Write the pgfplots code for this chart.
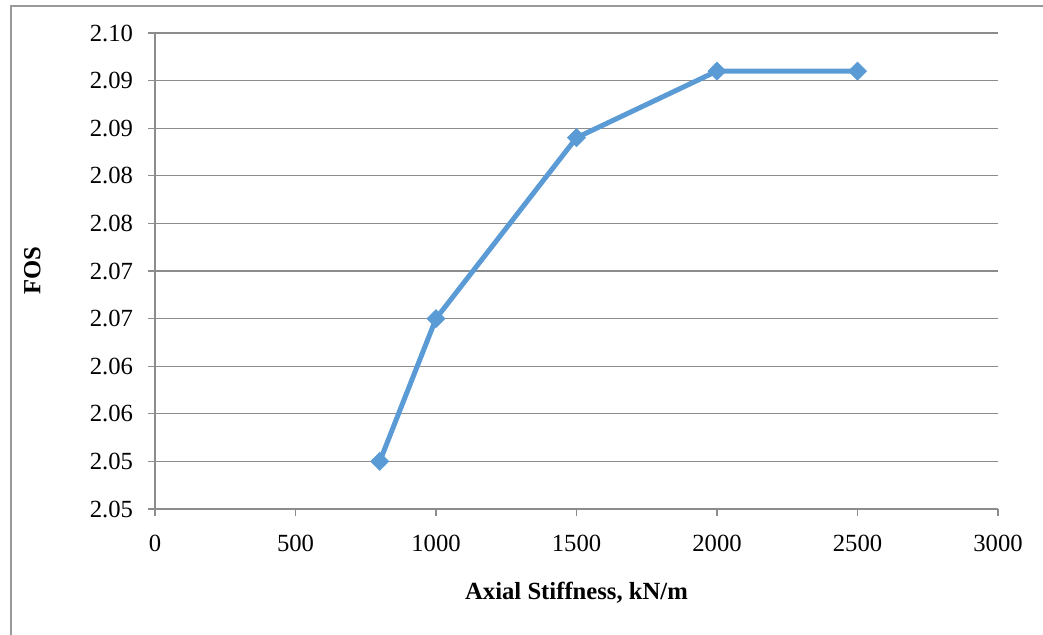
\documentclass[border=0pt]{standalone}
\usepackage{pgfplots}
\pgfplotsset{compat=1.18}
\usepackage{fontspec}
\setmainfont{Liberation Serif}
\definecolor{serblue}{HTML}{5B9BD5}
\definecolor{gridgray}{HTML}{8C8C8C}
\begin{document}
\begin{tikzpicture}[x=0.75pt,y=0.75pt]
\path[use as bounding box] (0,0) rectangle (1043,635);
\draw[color=gray!80, line width=1.5pt] (10.5,0) -- (10.5,629) -- (1043,629);
\begin{axis}[
  at={(155*0.75pt,126*0.75pt)}, anchor=south west,
  scale only axis, width=843*0.75pt, height=476*0.75pt,
  xmin=0, xmax=3000, ymin=2.05, ymax=2.10,
  xtick={0,500,...,3000},
  ytick={2.050,2.055,2.060,2.065,2.070,2.075,2.080,2.085,2.090,2.095,2.100},
  yticklabels={2.05,2.05,2.06,2.06,2.07,2.07,2.08,2.08,2.09,2.09,2.10},
  /pgf/number format/assume math mode=true,
  /pgf/number format/1000 sep={},
  ymajorgrids, grid style={gridgray, line width=0.8pt},
  axis line style={gridgray, line width=0.8pt},
  axis x line*=bottom, axis y line*=left,
  tick style={gridgray, line width=0.8pt},
  tick align=outside, major tick length=5pt,
  ticklabel style={font=\fontsize{18.5}{21}\selectfont},
  yticklabel style={xshift=-8pt},
  xticklabel style={yshift=-11pt},
  xlabel={\textbf{Axial Stiffness, kN/m}},
  ylabel={\textbf{FOS}},
  label style={font=\fontsize{18.5}{21}\selectfont},
  xlabel style={yshift=-16pt},
  ylabel style={yshift=30pt},
  clip=false,
]
\addplot[serblue, line width=3.75pt, mark=square*, mark size=4.8pt, mark options={solid, rotate=45, line width=0.5pt, fill=serblue}] coordinates {
(800,2.0550) (1000,2.0700) (1500,2.0890) (2000,2.0960) (2500,2.0960)
};
\end{axis}
\end{tikzpicture}
\end{document}
